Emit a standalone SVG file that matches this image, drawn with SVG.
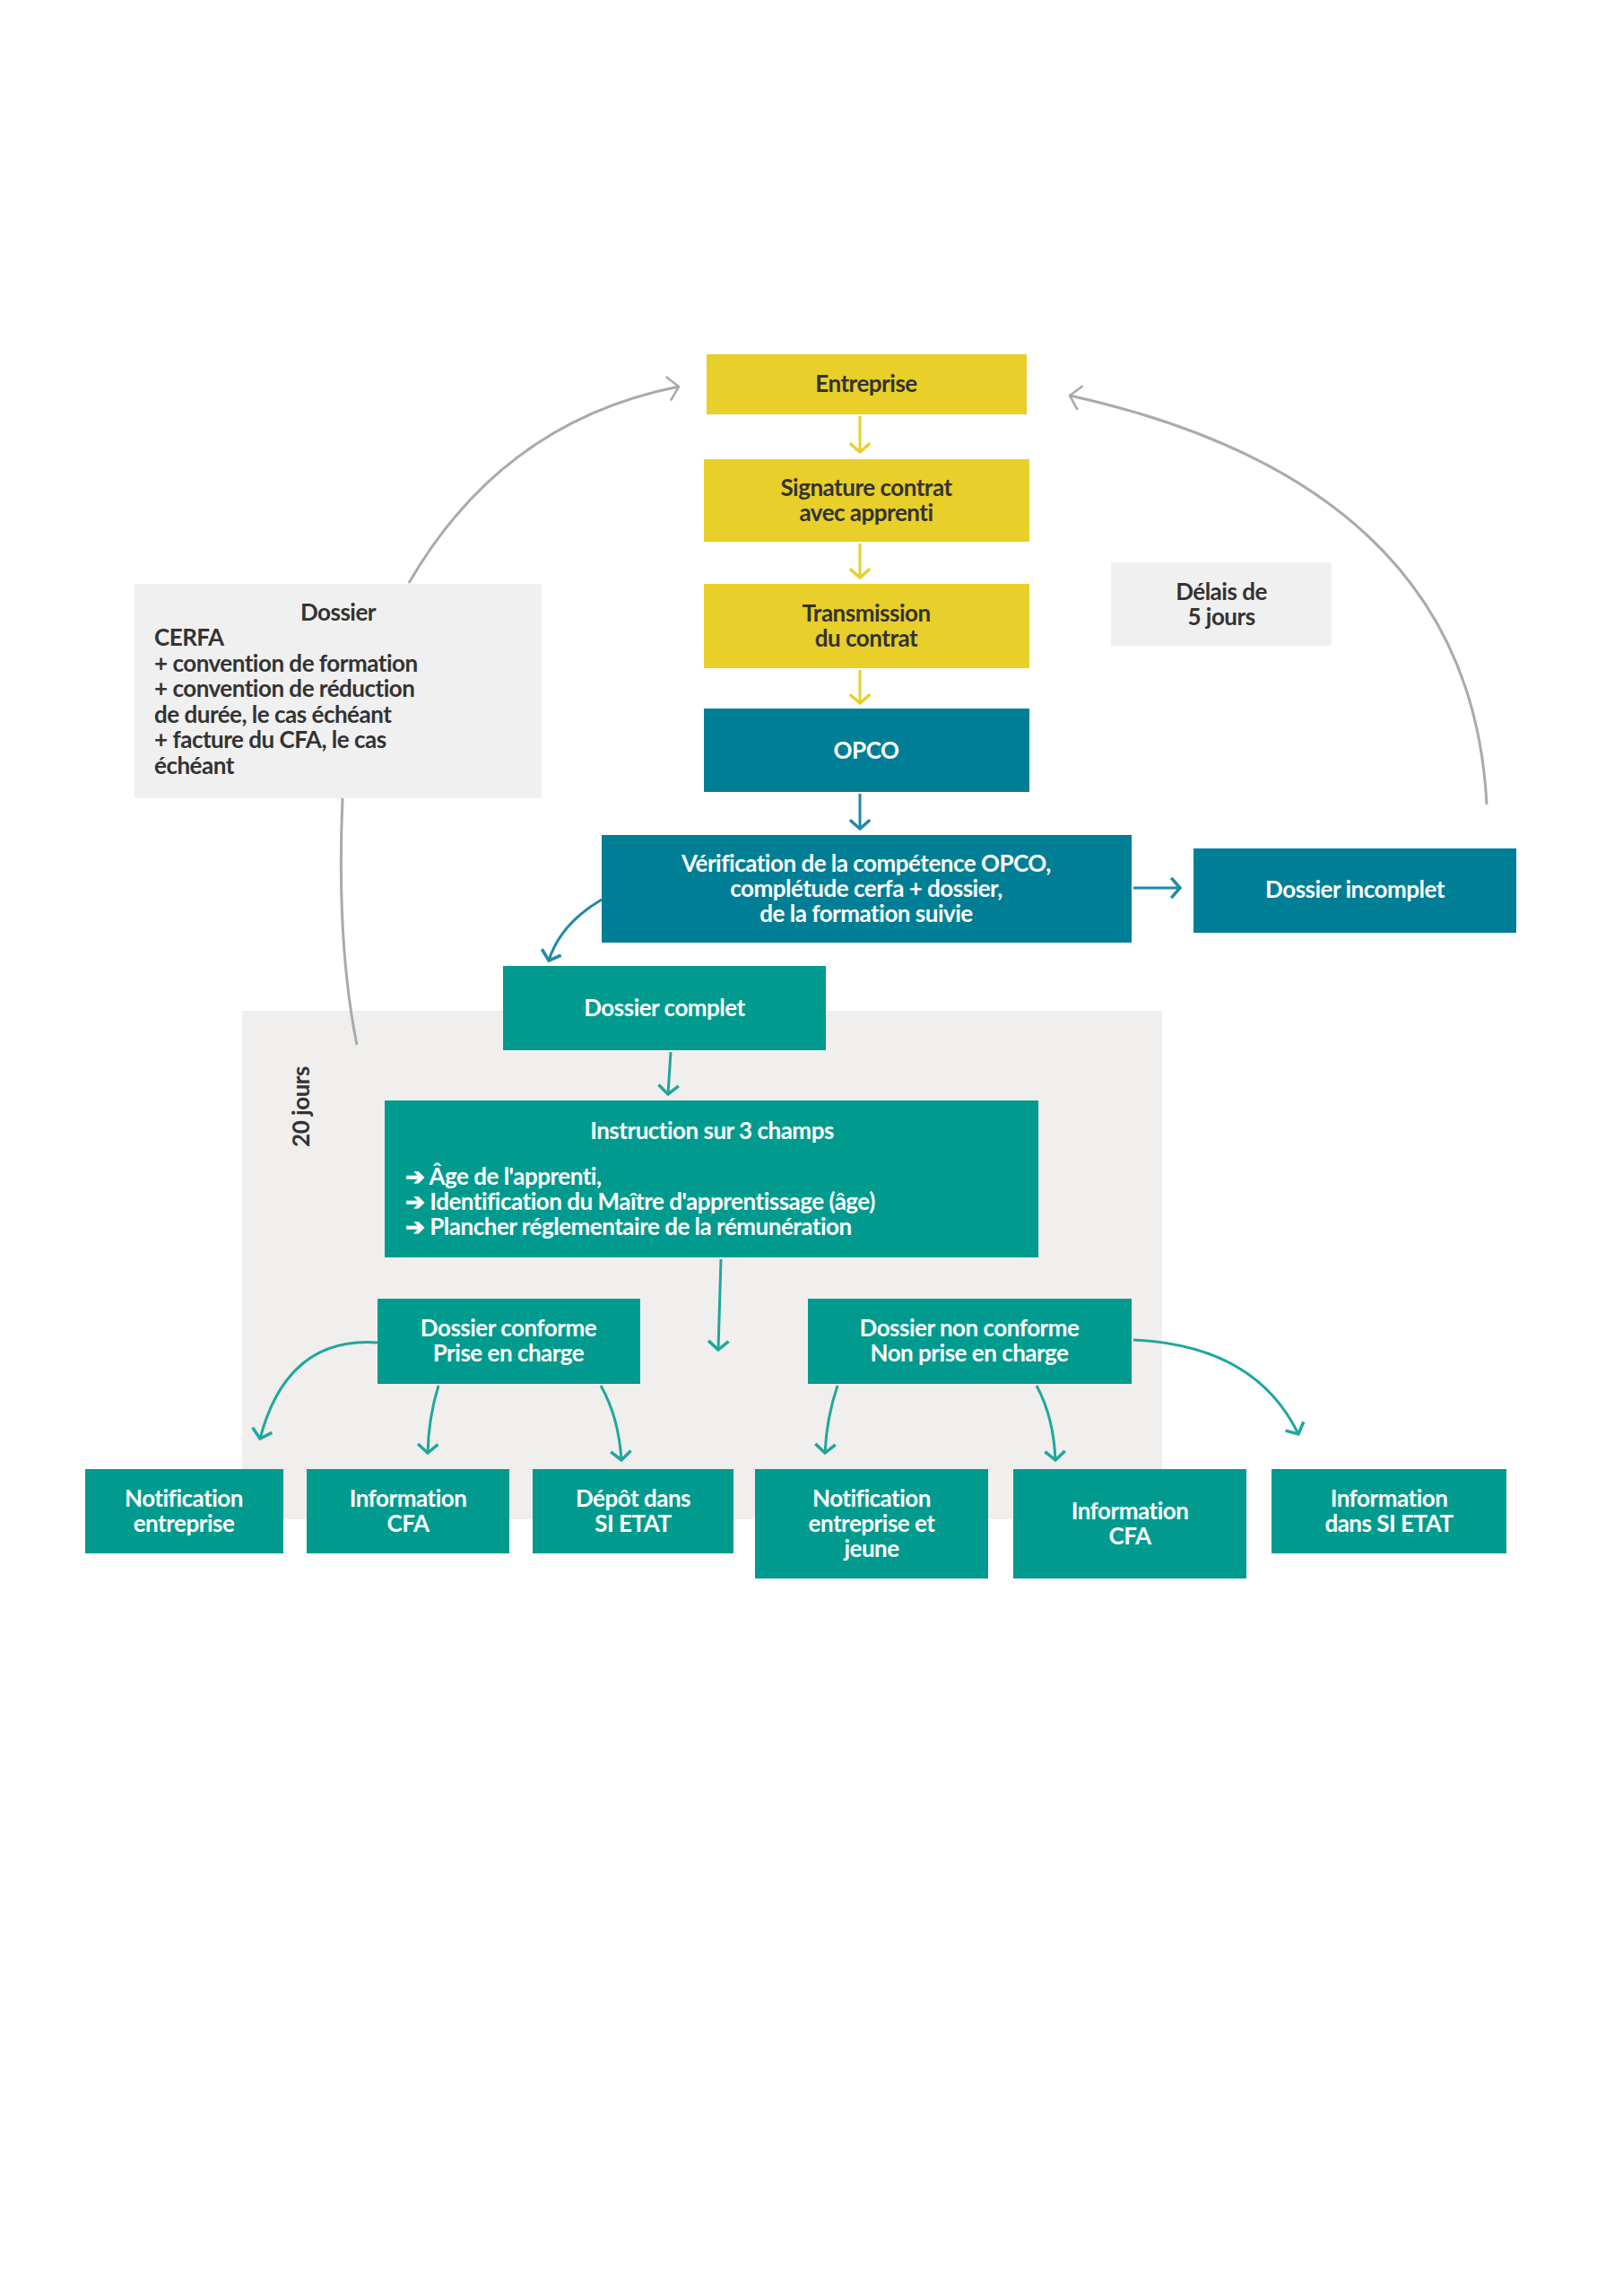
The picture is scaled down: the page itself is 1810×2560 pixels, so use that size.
<svg xmlns="http://www.w3.org/2000/svg" width="1810" height="2560" viewBox="0 0 1810 2560">
<style>
.y{fill:#E8CF2A}.d{fill:#007E96}.t{fill:#009B8E}
text{font-family:Lato,"Liberation Sans",sans-serif;font-weight:bold;font-size:26px;text-anchor:middle;letter-spacing:-0.5px}
text.s{text-anchor:start}
.dk{fill:#333}.w{fill:#fff}
.c{fill:none;stroke-width:3}
</style>
<defs>
<marker id="ag" viewBox="0 0 20 20" refX="10" refY="10" markerWidth="34" markerHeight="34" orient="auto" markerUnits="userSpaceOnUse"><path d="M3,2 L10,10 L3,18" fill="none" stroke="#aaa" stroke-width="1.5"/></marker>
<marker id="ay" viewBox="0 0 20 20" refX="10" refY="10" markerWidth="28" markerHeight="28" orient="auto" markerUnits="userSpaceOnUse"><path d="M3,2 L10,10 L3,18" fill="none" stroke="#E8CF2A" stroke-width="2.5"/></marker>
<marker id="ad" viewBox="0 0 20 20" refX="10" refY="10" markerWidth="28" markerHeight="28" orient="auto" markerUnits="userSpaceOnUse"><path d="M3,2 L10,10 L3,18" fill="none" stroke="#1C8BA6" stroke-width="2.5"/></marker>
<marker id="at" viewBox="0 0 20 20" refX="10" refY="10" markerWidth="28" markerHeight="28" orient="auto" markerUnits="userSpaceOnUse"><path d="M3,2 L10,10 L3,18" fill="none" stroke="#1FA79C" stroke-width="2.5"/></marker>
</defs>
<rect width="1810" height="2560" fill="#fff"/>
<rect id="bg20" x="270" y="1127" width="1026" height="567" fill="#F0EFED"/>
<text x="0" y="0" class="dk" transform="translate(345,1234) rotate(-90)">20 jours</text>

<g id="connectors">
<path class="c" stroke="#aaa" stroke-width="2" d="M456,650 Q560,470 757,431" marker-end="url(#ag)"/>
<path class="c" stroke="#aaa" stroke-width="2" d="M1658,897 Q1640,540 1193,441" marker-end="url(#ag)"/>
<path class="c" stroke="#aaa" stroke-width="2" d="M382,890 Q375,1050 398,1165"/>
<path class="c" stroke="#E8CF2A" d="M959,464 L959,504" marker-end="url(#ay)"/>
<path class="c" stroke="#E8CF2A" d="M959,606 L959,644" marker-end="url(#ay)"/>
<path class="c" stroke="#E8CF2A" d="M959,747 L959,784" marker-end="url(#ay)"/>
<path class="c" stroke="#1C8BA6" d="M959,885 L959,924" marker-end="url(#ad)"/>
<path class="c" stroke="#1C8BA6" d="M1264,990 L1316,990" marker-end="url(#ad)"/>
<path class="c" stroke="#1C8BA6" d="M671,1003 Q625,1030 612,1071" marker-end="url(#ad)"/>
<path class="c" stroke="#1FA79C" d="M748,1173 L745,1220" marker-end="url(#at)"/>
<path class="c" stroke="#1FA79C" d="M804,1404 L801,1505" marker-end="url(#at)"/>
<path class="c" stroke="#1FA79C" d="M421,1497 Q320,1490 290,1604" marker-end="url(#at)"/>
<path class="c" stroke="#1FA79C" d="M489,1545 Q478,1580 477,1620" marker-end="url(#at)"/>
<path class="c" stroke="#1FA79C" d="M670,1545 Q690,1580 693,1628" marker-end="url(#at)"/>
<path class="c" stroke="#1FA79C" d="M934,1545 Q922,1580 920,1620" marker-end="url(#at)"/>
<path class="c" stroke="#1FA79C" d="M1156,1545 Q1175,1580 1177,1628" marker-end="url(#at)"/>
<path class="c" stroke="#1FA79C" d="M1264,1494 Q1400,1500 1448,1599" marker-end="url(#at)"/>
</g>

<g id="entreprise"><rect class="y" x="788" y="395" width="357" height="67"/><text class="dk" x="966" y="437">Entreprise</text></g>
<g id="signature"><rect class="y" x="785" y="512" width="363" height="92"/><text class="dk" x="966" y="553">Signature contrat</text><text class="dk" x="966" y="581">avec apprenti</text></g>
<g id="transmission"><rect class="y" x="785" y="651" width="363" height="94"/><text class="dk" x="966" y="693">Transmission</text><text class="dk" x="966" y="721">du contrat</text></g>
<g id="opco"><rect class="d" x="785" y="790" width="363" height="93"/><text class="w" x="966" y="846">OPCO</text></g>
<g id="verification"><rect class="d" x="671" y="931" width="591" height="120"/><text class="w" x="966" y="972">Vérification de la compétence OPCO,</text><text class="w" x="966" y="1000">complétude cerfa + dossier,</text><text class="w" x="966" y="1028">de la formation suivie</text></g>
<g id="incomplet"><rect class="d" x="1331" y="946" width="360" height="94"/><text class="w" x="1511" y="1001">Dossier incomplet</text></g>
<g id="delais"><rect x="1239" y="627" width="246" height="93" fill="#F0F0F0"/><text class="dk" x="1362" y="669">Délais de</text><text class="dk" x="1362" y="697">5 jours</text></g>
<g id="dossier"><rect x="150" y="651" width="454" height="239" fill="#F0F0F0"/>
<text class="dk" x="377" y="692">Dossier</text>
<text class="dk s" x="172" y="720">CERFA</text>
<text class="dk s" x="172" y="749">+ convention de formation</text>
<text class="dk s" x="172" y="777">+ convention de réduction</text>
<text class="dk s" x="172" y="806">de durée, le cas échéant</text>
<text class="dk s" x="172" y="834">+ facture du CFA, le cas</text>
<text class="dk s" x="172" y="863">échéant</text></g>
<g id="complet"><rect class="t" x="561" y="1077" width="360" height="94"/><text class="w" x="741" y="1133">Dossier complet</text></g>
<g id="instruction"><rect class="t" x="429" y="1227" width="729" height="175"/><text class="w" x="794" y="1270">Instruction sur 3 champs</text>
<text class="w s" x="452" y="1321">➔ Âge de l'apprenti,</text>
<text class="w s" x="452" y="1349">➔ Identification du Maître d'apprentissage (âge)</text>
<text class="w s" x="452" y="1377">➔ Plancher réglementaire de la rémunération</text></g>
<g id="conforme"><rect class="t" x="421" y="1448" width="293" height="95"/><text class="w" x="567" y="1490">Dossier conforme</text><text class="w" x="567" y="1518">Prise en charge</text></g>
<g id="nonconforme"><rect class="t" x="901" y="1448" width="361" height="95"/><text class="w" x="1081" y="1490">Dossier non conforme</text><text class="w" x="1081" y="1518">Non prise en charge</text></g>
<g id="notif1"><rect class="t" x="95" y="1638" width="221" height="94"/><text class="w" x="205" y="1680">Notification</text><text class="w" x="205" y="1708">entreprise</text></g>
<g id="info1"><rect class="t" x="342" y="1638" width="226" height="94"/><text class="w" x="455" y="1680">Information</text><text class="w" x="455" y="1708">CFA</text></g>
<g id="depot"><rect class="t" x="594" y="1638" width="224" height="94"/><text class="w" x="706" y="1680">Dépôt dans</text><text class="w" x="706" y="1708">SI ETAT</text></g>
<g id="notif2"><rect class="t" x="842" y="1638" width="260" height="122"/><text class="w" x="972" y="1680">Notification</text><text class="w" x="972" y="1708">entreprise et</text><text class="w" x="972" y="1736">jeune</text></g>
<g id="info2"><rect class="t" x="1130" y="1638" width="260" height="122"/><text class="w" x="1260" y="1694">Information</text><text class="w" x="1260" y="1722">CFA</text></g>
<g id="info3"><rect class="t" x="1418" y="1638" width="262" height="94"/><text class="w" x="1549" y="1680">Information</text><text class="w" x="1549" y="1708">dans SI ETAT</text></g>
</svg>
